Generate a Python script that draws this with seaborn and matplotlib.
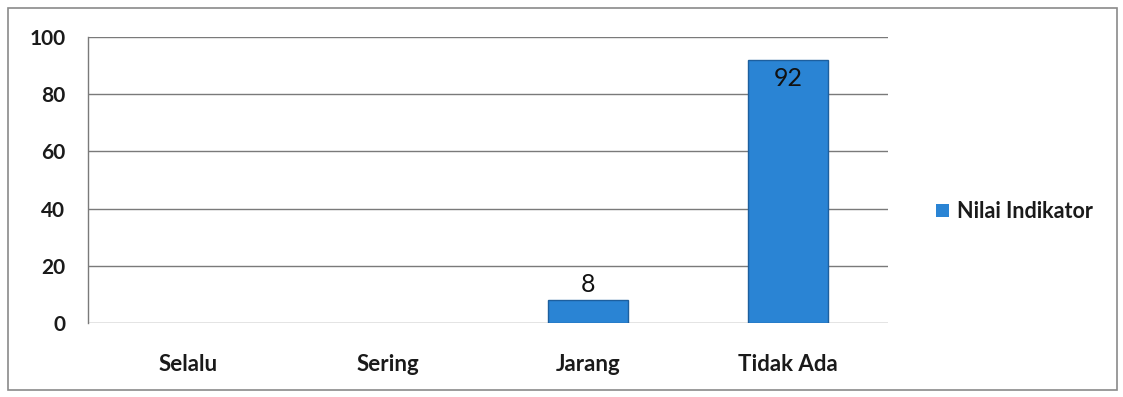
import matplotlib
matplotlib.use("Agg")
import matplotlib.pyplot as plt
from matplotlib.patches import Rectangle
import seaborn as sns
import pandas as pd

categories = ["Selalu", "Sering", "Jarang", "Tidak Ada"]
values = [0, 0, 8, 92]
series_name = "Nilai Indikator"
y_ticks = [0, 20, 40, 60, 80, 100]

sns.set_theme(style="white")
plt.rcParams["font.family"] = ["Lato", "DejaVu Sans"]

df = pd.DataFrame({"Kategori": categories, "Nilai": values, "Seri": series_name})

fig = plt.figure(figsize=(11.23, 3.97), dpi=100)
ax = fig.add_axes([0.078, 0.186, 0.713, 0.721])

bar_color = "#2A84D4"
sns.barplot(data=df, x="Kategori", y="Nilai", hue="Seri", palette=[bar_color],
            saturation=1, width=0.4, edgecolor="#1D5F9E", linewidth=1.0, ax=ax, legend=True)

# hide outlines of empty bars
for patch in ax.patches:
    if patch.get_height() == 0:
        patch.set_edgecolor("none")

ax.set_ylim(0, 100)
ax.set_xlim(-0.5, len(categories) - 0.5)
ax.set_yticks(y_ticks)
ax.set_yticklabels([str(t) for t in y_ticks], fontsize=15, fontweight="bold", color="#1a1a1a")
ax.set_xlabel("")
ax.set_ylabel("")

# horizontal gridlines
for t in y_ticks:
    ax.axhline(t, color="#7a7a7a", linewidth=1.0, zorder=0)

# category boundary ticks on the x axis
ax.set_xticks([i - 0.5 for i in range(len(categories) + 1)], minor=False)
ax.set_xticklabels([])
ax.set_xticks(range(len(categories)), minor=True)
ax.set_xticklabels(categories, minor=True, fontsize=16, fontweight="bold", color="#1a1a1a")
ax.tick_params(axis="x", which="minor", length=0, pad=22)
ax.tick_params(axis="x", which="major", length=6, color="#7a7a7a", direction="out", width=1)
ax.tick_params(axis="y", length=6, color="#7a7a7a", direction="out", width=1, pad=10)

for s in ["top", "right", "bottom"]:
    ax.spines[s].set_visible(False)
ax.spines["left"].set_color("#7a7a7a")
ax.spines["left"].set_linewidth(1.0)

# data labels
for i, v in enumerate(values):
    if v == 0:
        continue
    if v > 50:
        ax.text(i, v - 2.5, str(v), ha="center", va="top", fontsize=18, color="#111111")
    else:
        ax.text(i, v + 1.5, str(v), ha="center", va="bottom", fontsize=18, color="#111111")

leg = ax.legend(loc="center left", bbox_to_anchor=(1.035, 0.39), frameon=False,
                prop={"size": 15.5, "weight": "bold"}, handlelength=0.6, handleheight=0.6,
                handletextpad=0.4)
for t in leg.get_texts():
    t.set_color("#1a1a1a")

# outer chart frame
fig.patches.append(Rectangle((0.007, 0.018), 0.988, 0.962, transform=fig.transFigure,
                             fill=False, edgecolor="#8a8a8a", linewidth=1.2))

fig.savefig("out.png", dpi=100, facecolor="white")
